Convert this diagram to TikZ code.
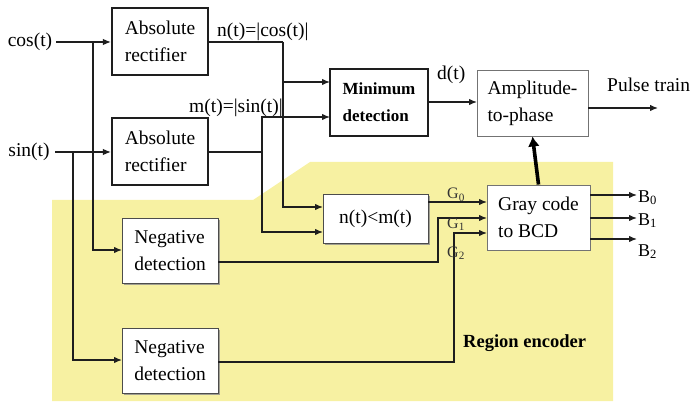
\documentclass[tikz,border=0pt]{standalone}
\usepackage{fontspec}
\setmainfont{Liberation Serif}
\usetikzlibrary{arrows.meta,shadows}
\definecolor{regionfill}{RGB}{247,241,162}
\definecolor{wire}{RGB}{30,30,30}
\begin{document}
\begin{tikzpicture}[x=1pt,y=-1pt,
  every node/.style={font=\fontsize{19.5}{27}\selectfont, inner sep=0pt},
  heavybox/.style={draw=wire, line width=2.1pt, fill=white, align=left},
  lightbox/.style={draw=black!55, line width=0.9pt, fill=white, align=left},
  shadebox/.style={draw=black!70, line width=0.9pt, fill=white, align=left,
    drop shadow={shadow xshift=2pt, shadow yshift=-2pt, fill=black!45, opacity=0.8}},
  wireline/.style={draw=wire, line width=1.3pt},
  arrow/.style={wireline, -{Latex[length=8pt,width=6.5pt]}},
  lbl/.style={anchor=base west},
  sublbl/.style={anchor=base west, font=\fontsize{16}{18}\selectfont, text=black!80},
  outlbl/.style={anchor=base west, font=\fontsize{18}{20}\selectfont}]
\useasboundingbox (0,0) rectangle (692,403);

% region encoder background
\fill[regionfill] (52,200) -- (253,200) -- (310,162) -- (613,162) -- (613,401) -- (52,401) -- cycle;

% inputs
\node (cos) at (30,42) {cos(t)};
\node (sin) at (29,152) {sin(t)};

% blocks
\node[heavybox, minimum width=96, minimum height=67] (abs1) at (160,41.5) {Absolute\\rectifier};
\node[heavybox, minimum width=96, minimum height=67] (abs2) at (160,151.5) {Absolute\\rectifier};
\node[heavybox, minimum width=98, minimum height=67, font=\bfseries\fontsize{17}{27}\selectfont] (mind) at (379,102.5) {Minimum\\detection};
\node[lightbox, minimum width=111, minimum height=66] (amp) at (532.5,103) {Amplitude-\\to-phase};
\node[shadebox, minimum width=105, minimum height=49] (cmp) at (375.5,218.5) {n(t)<m(t)};
\node[lightbox, minimum width=103, minimum height=65] (gray) at (538.5,217.5) {Gray code\\to BCD};
\node[shadebox, minimum width=96, minimum height=65] (neg1) at (170,250.5) {Negative\\detection};
\node[shadebox, minimum width=96, minimum height=65] (neg2) at (170,360.5) {Negative\\detection};

% junctions and ports
\coordinate (cosS) at (56,42);
\coordinate (cosJ) at (93,42);
\coordinate (sinS) at (55,152);
\coordinate (sinJ) at (73,152);
\coordinate (nJ) at (283,42);
\coordinate (mJ) at (262,152);
\coordinate (mind1) at (330,82);
\coordinate (mind2) at (330,117);
\coordinate (cmp1) at (323,207);
\coordinate (cmp2) at (323,232);
\coordinate (neg1in) at (122,250);
\coordinate (neg2in) at (122,360);
\coordinate (dOut) at (428,102);
\coordinate (ampIn) at (477,102);
\coordinate (ampOut) at (588,108);
\coordinate (pulse) at (658,108);
\coordinate (g0a) at (428,202);
\coordinate (g0b) at (487,202);
\coordinate (n1o) at (218,262);
\coordinate (g1t) at (438,262);
\coordinate (g1b) at (487,218);
\coordinate (n2o) at (218,362);
\coordinate (g2t) at (454,362);
\coordinate (g2b) at (487,233);
\coordinate (b0a) at (590,195);
\coordinate (b0b) at (637,195);
\coordinate (b1a) at (590,218);
\coordinate (b1b) at (637,218);
\coordinate (b2a) at (590,239);
\coordinate (b2b) at (637,239);

% input distribution
\draw[arrow] (cosS) -- (abs1.west |- cosS);
\draw[arrow] (cosJ) |- (neg1in);
\draw[arrow] (sinS) -- (abs2.west |- sinS);
\draw[arrow] (sinJ) |- (neg2in);

% rectified signals
\draw[wireline] (abs1.east |- nJ) -- (nJ);
\draw[arrow] (nJ) |- (mind1);
\draw[arrow] (nJ) |- (cmp1);
\draw[wireline] (abs2.east |- mJ) -- (mJ);
\draw[arrow] (mJ) |- (mind2);
\draw[arrow] (mJ) |- (cmp2);

% main path
\draw[arrow] (dOut) -- (ampIn);
\draw[arrow] (ampOut) -- (pulse);

% region code bits
\draw[arrow] (g0a) -- (g0b);
\draw[arrow] (n1o) -- (g1t) |- (g1b);
\draw[arrow] (n2o) -- (g2t) |- (g2b);
\draw[arrow] (b0a) -- (b0b);
\draw[arrow] (b1a) -- (b1b);
\draw[arrow] (b2a) -- (b2b);
\draw[draw=black, line width=3.6pt, -{Latex[length=10pt,width=12pt]}] (gray.north) -- (amp.south);

% labels
\node[lbl] (nlbl) at (217,37) {n(t)=|cos(t)|};
\node[lbl] (mlbl) at (189,113) {m(t)=|sin(t)|};
\node[lbl] (dlbl) at (437,80) {d(t)};
\node[lbl] (plbl) at (607,92) {Pulse train};
\node[lbl, font=\bfseries\fontsize{18.5}{20}\selectfont] (rlbl) at (463,347) {Region encoder};
\node[sublbl] (G0) at (447,199) {G\textsubscript{0}};
\node[sublbl] (G1) at (447,228) {G\textsubscript{1}};
\node[sublbl] (G2) at (447,257) {G\textsubscript{2}};
\node[outlbl] (B0) at (638,202) {B\textsubscript{0}};
\node[outlbl] (B1) at (638,225) {B\textsubscript{1}};
\node[outlbl] (B2) at (638,256) {B\textsubscript{2}};
\end{tikzpicture}
\end{document}
